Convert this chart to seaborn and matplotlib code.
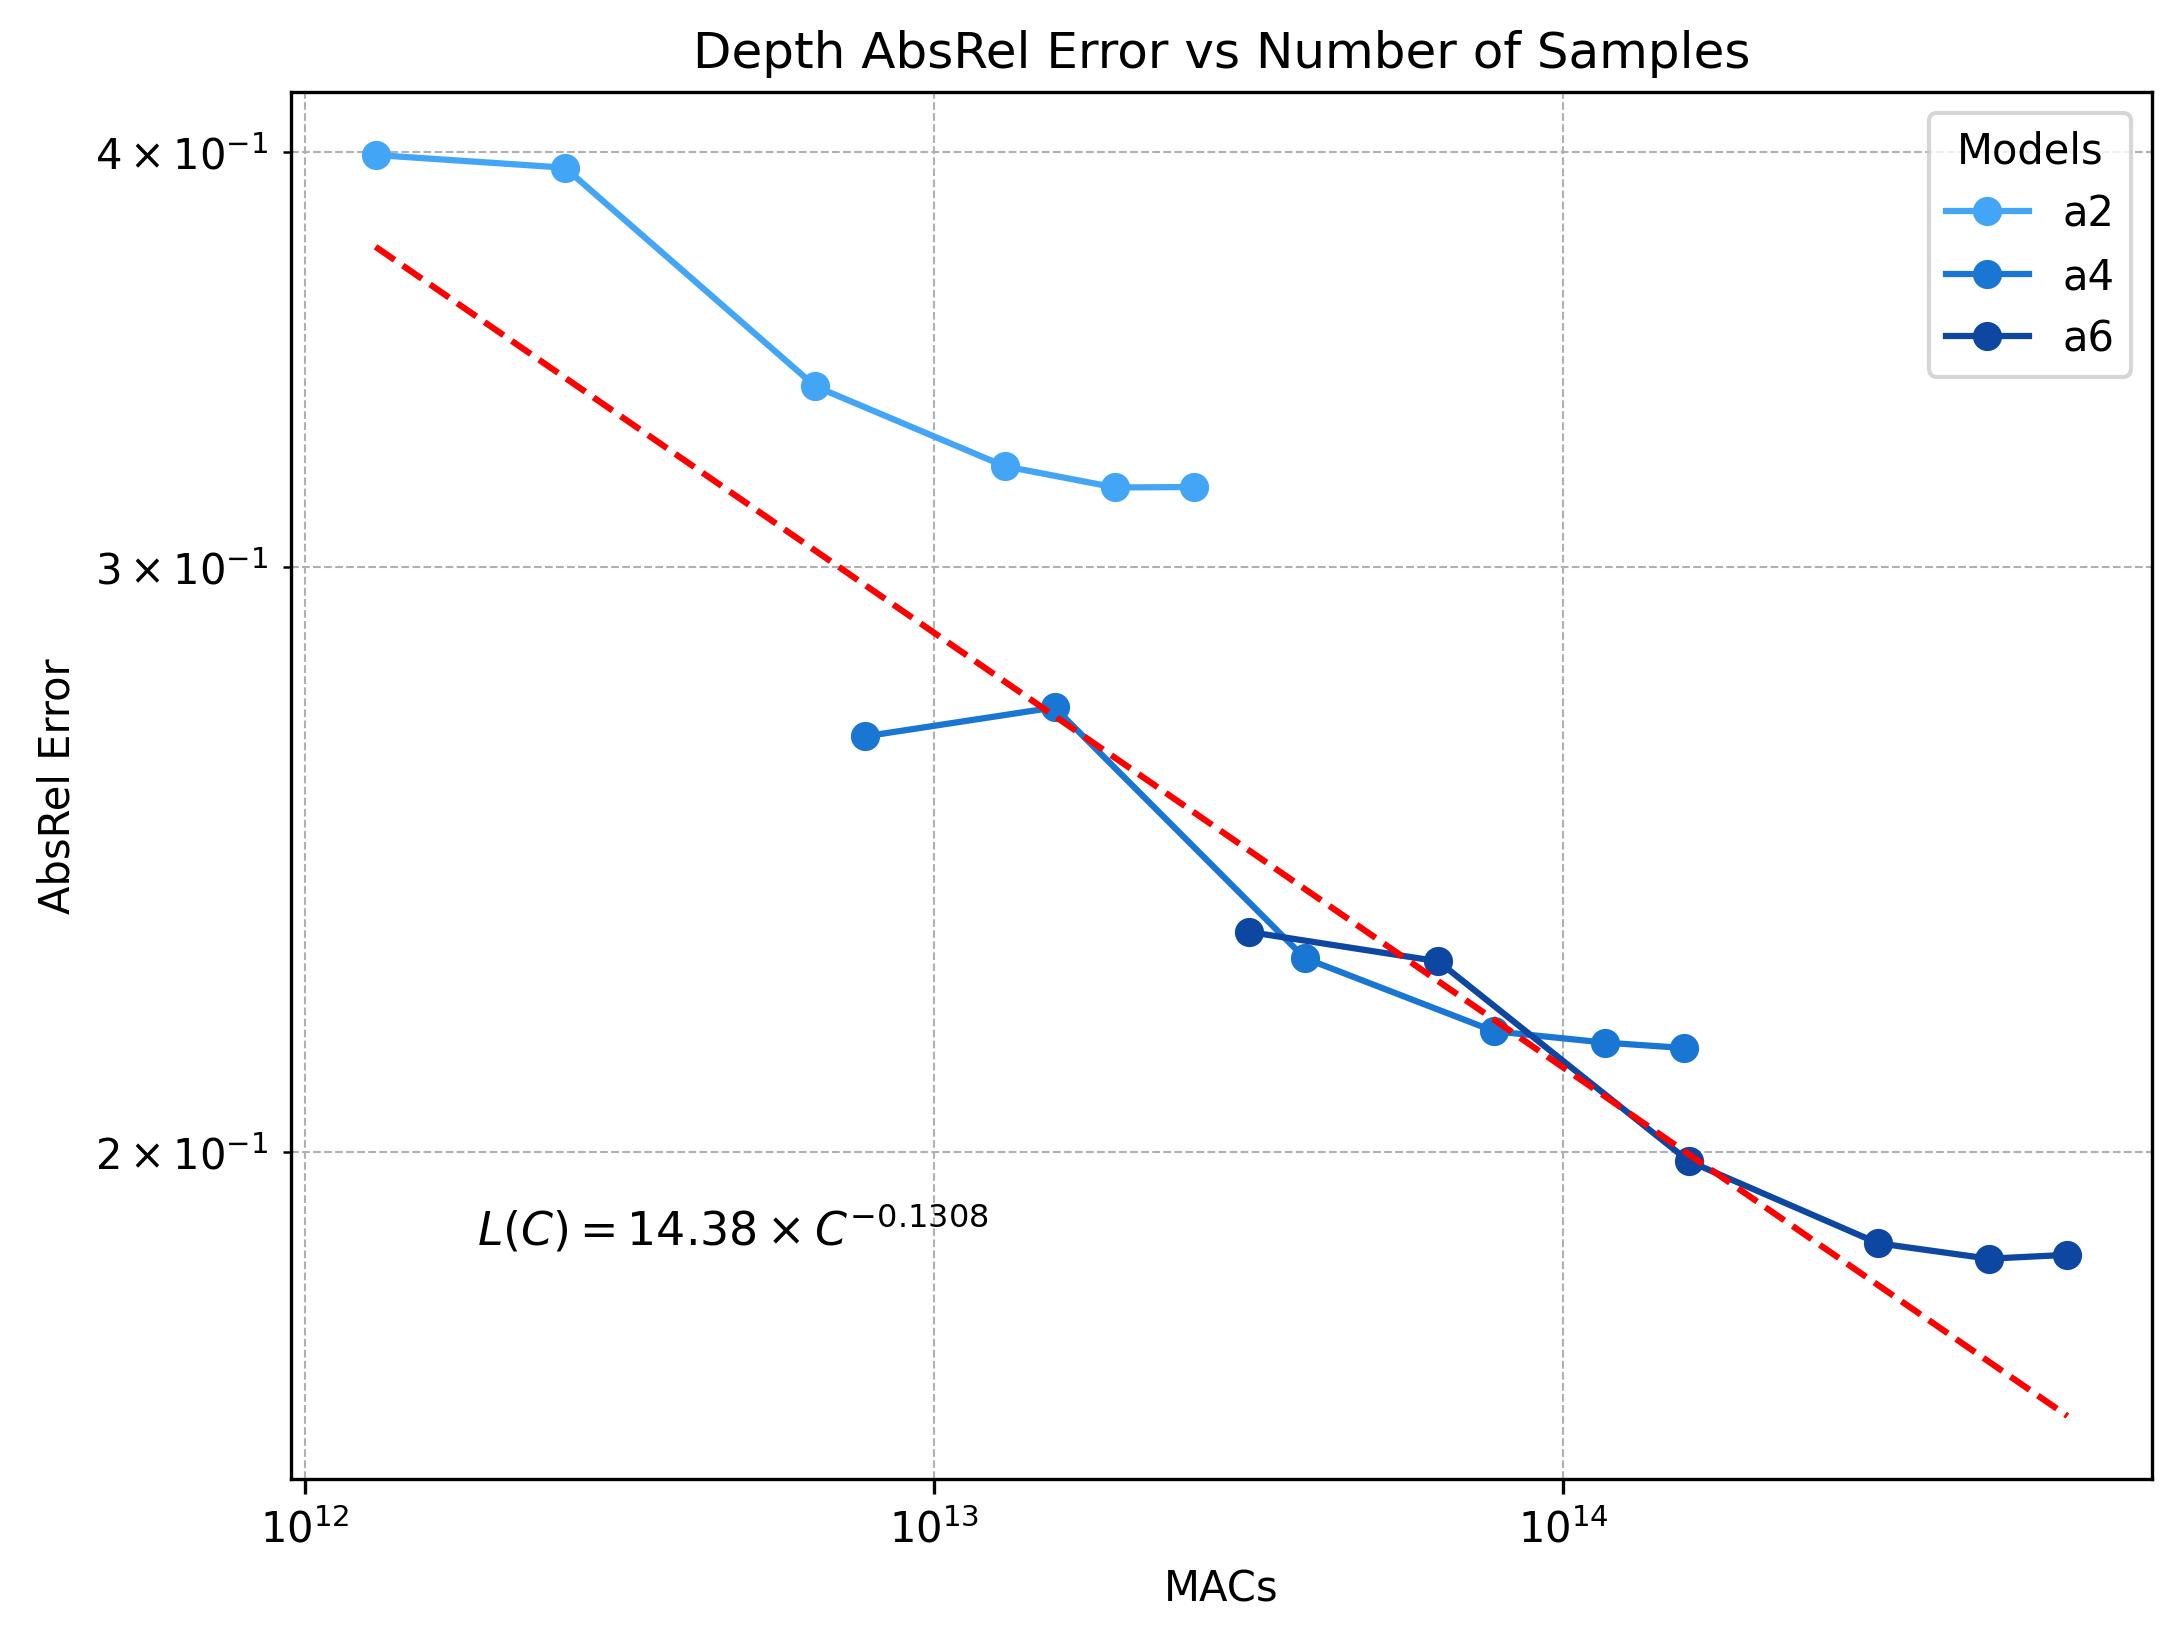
import numpy as np
import pandas as pd
import matplotlib
matplotlib.use("Agg")
import matplotlib.pyplot as plt
import matplotlib.ticker as mticker
import seaborn as sns

# ── Data ─────────────────────────────────────────────────────────────────────
MODELS = ["a2", "a4", "a6"]
COLORS = {"a2": "#42A5F5", "a4": "#1976D2", "a6": "#0D47A1"}

a2_macs = [1.295e12, 2.59e12, 6.475e12, 1.295e13, 1.94e13, 2.59e13]
a2_err = [0.3991, 0.3956, 0.3400, 0.3217, 0.3170, 0.3171]

a4_macs = [7.77e12, 1.554e13, 3.885e13, 7.77e13, 1.166e14, 1.554e14]
a4_err = [0.2668, 0.2722, 0.2288, 0.2175, 0.2158, 0.2150]

a6_macs = [3.165e13, 6.33e13, 1.5825e14, 3.165e14, 4.7475e14, 6.33e14]
a6_err = [0.2330, 0.2283, 0.1988, 0.1878, 0.1858, 0.1863]

# power-law fit shown in the annotation
FIT_A = 14.38
FIT_B = -0.1308

df = pd.concat([
    pd.DataFrame({"MACs": a2_macs, "AbsRel": a2_err, "Model": "a2"}),
    pd.DataFrame({"MACs": a4_macs, "AbsRel": a4_err, "Model": "a4"}),
    pd.DataFrame({"MACs": a6_macs, "AbsRel": a6_err, "Model": "a6"}),
], ignore_index=True)

# ── Plot ─────────────────────────────────────────────────────────────────────
fig = plt.figure(figsize=(2181 / 300, 1639 / 300), dpi=300)
ax = fig.add_axes([0.1334, 0.0970, 0.8533, 0.8463])

sns.lineplot(data=df, x="MACs", y="AbsRel", hue="Model", hue_order=MODELS,
             palette=COLORS, marker="o", markersize=6, markeredgecolor=None,
             markeredgewidth=1.0, linewidth=1.5, ax=ax)

# fit line across the full MACs range
fit_x = np.array([df["MACs"].min(), df["MACs"].max()])
fit_y = FIT_A * fit_x ** FIT_B
ax.plot(fit_x, fit_y, "r--", linewidth=1.5)

ax.set_xscale("log")
ax.set_yscale("log")
ax.xaxis.set_minor_locator(mticker.NullLocator())
ax.grid(True, which="both", linestyle="--", linewidth=0.5)

ax.text(0.1, 0.2, r"$L(C) = 14.38 \times C^{-0.1308}$", transform=ax.transAxes,
        fontsize=11, va="top")

ax.set_title("Depth AbsRel Error vs Number of Samples")
ax.set_xlabel("MACs")
ax.set_ylabel("AbsRel Error")
sns.move_legend(ax, "upper right", title="Models")

fig.savefig("out.png", dpi=300)
